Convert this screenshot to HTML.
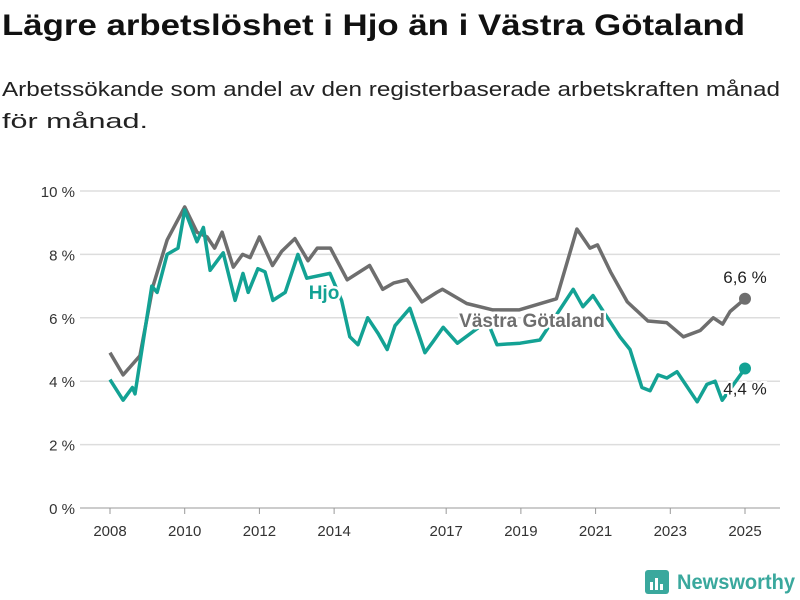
<!DOCTYPE html>
<html><head><meta charset="utf-8"><style>
body{margin:0;background:#fff;}
svg{display:block;font-family:"Liberation Sans","DejaVu Sans",sans-serif;}
</style></head><body>
<svg id="chart" width="800" height="600" viewBox="0 0 800 600">
<text x="2" y="35" font-size="30" font-weight="bold" fill="#111" textLength="743" lengthAdjust="spacingAndGlyphs">Lägre arbetslöshet i Hjo än i Västra Götaland</text>
<text x="2" y="96" font-size="20" fill="#222" textLength="778" lengthAdjust="spacingAndGlyphs">Arbetssökande som andel av den registerbaserade arbetskraften månad</text>
<text x="2" y="128" font-size="20" fill="#222" textLength="146" lengthAdjust="spacingAndGlyphs">för månad.</text>
<g id="grid"></g>
<g id="xaxis"></g>
<g id="series"></g>
<g>
<rect x="645" y="570" width="24" height="24" rx="3" fill="#3aa89d"/>
<rect x="650" y="582" width="3" height="8" fill="#fff"/><rect x="655" y="578" width="3" height="12" fill="#fff"/><rect x="660" y="584" width="3" height="6" fill="#fff"/>
<text x="677" y="589" font-size="21" font-weight="bold" fill="#3aa89d" textLength="118" lengthAdjust="spacingAndGlyphs">Newsworthy</text>
</g>
</svg>
<script>
const yTicks=[0,2,4,6,8,10];
const xTicks=[2008,2010,2012,2014,2017,2019,2021,2023,2025];
const vgYears=[2008,2008.35,2008.8,2009.15,2009.53,2010,2010.33,2010.6,2010.8,2011,2011.3,2011.55,2011.75,2012,2012.35,2012.6,2012.95,2013.3,2013.55,2013.9,2014.35,2014.55,2014.95,2015.3,2015.6,2015.95,2016.35,2016.75,2016.9,2017.55,2018.25,2018.95,2019.95,2020.5,2020.85,2021.05,2021.4,2021.85,2022.4,2022.9,2023.35,2023.8,2024.15,2024.4,2024.6,2025];
const vgValues=[4.9,4.2,4.8,7.0,8.45,9.5,8.7,8.55,8.2,8.7,7.6,8.0,7.9,8.55,7.65,8.1,8.5,7.8,8.2,8.2,7.2,7.35,7.65,6.9,7.1,7.2,6.5,6.8,6.9,6.45,6.25,6.25,6.6,8.8,8.2,8.3,7.45,6.5,5.9,5.85,5.4,5.6,6.0,5.8,6.2,6.6];
const hjoYears=[2008,2008.35,2008.6,2008.67,2009.12,2009.26,2009.53,2009.82,2010,2010.33,2010.5,2010.68,2011.03,2011.35,2011.56,2011.7,2011.96,2012.15,2012.36,2012.69,2013.03,2013.27,2013.89,2014.2,2014.42,2014.64,2014.9,2015.18,2015.42,2015.63,2016.03,2016.43,2016.65,2016.92,2017.3,2018.1,2018.36,2018.98,2019.51,2020.4,2020.66,2020.93,2021.65,2021.92,2022.24,2022.46,2022.67,2022.91,2023.18,2023.72,2023.98,2024.2,2024.39,2025];
const hjoValues=[4.05,3.4,3.8,3.6,7.0,6.8,8.0,8.2,9.4,8.4,8.85,7.5,8.05,6.55,7.4,6.8,7.55,7.45,6.55,6.8,8.0,7.25,7.4,6.55,5.4,5.15,6.0,5.5,5.0,5.75,6.3,4.9,5.25,5.7,5.2,5.9,5.15,5.2,5.3,6.9,6.35,6.7,5.4,5.0,3.8,3.7,4.2,4.1,4.3,3.35,3.9,4.0,3.4,4.4];
const NS='http://www.w3.org/2000/svg';
const X0=110,X1=745,Y0=508,Y1=191;
function xs(t){return X0+(t-2008)/(2025-2008)*(X1-X0);}
function ys(v){return Y0-v/10*(Y0-Y1);}
function mk(tag,attrs,parent){const e=document.createElementNS(NS,tag);for(const k in attrs)e.setAttribute(k,attrs[k]);parent.appendChild(e);return e;}
const grid=document.getElementById('grid'),xa=document.getElementById('xaxis'),ser=document.getElementById('series');
yTicks.forEach(v=>{
 const l=mk('line',{x1:80,x2:780,y1:ys(v),y2:ys(v),stroke:v===0?'#999':'#ddd','stroke-width':v===0?1:1.5},grid);
 
 
 const t=mk('text',{x:75,y:ys(v)+6,'text-anchor':'end','font-size':15,fill:'#333'},grid);
 t.textContent=v+' %';
 
 
});
xTicks.forEach(y=>{
 const l=mk('line',{x1:xs(y),x2:xs(y),y1:508,y2:514,stroke:'#999'},xa);
 
 
 const t=mk('text',{x:xs(y),y:536,'text-anchor':'middle','font-size':15,fill:'#333'},xa);
 t.textContent=y;
 
 
});
function line(years,vals,color,name){
 const d=years.map((t,i)=>(i?'L':'M')+xs(t).toFixed(1)+' '+ys(vals[i]).toFixed(1)).join(' ');
 const p=mk('path',{d:d,fill:'none',stroke:color,'stroke-width':3.5,'stroke-linejoin':'round'},ser);
 
 
 const n=years.length-1;
 const c=mk('circle',{cx:xs(years[n]),cy:ys(vals[n]),r:6,fill:color},ser);
 
 
 const t=mk('text',{x:xs(years[n]),y:ys(vals[n])+(name==='vg'?-16:26),'text-anchor':'middle','font-size':17,fill:'#222',stroke:'#fff','stroke-width':4,'paint-order':'stroke'},ser);
 t.textContent=vals[n].toFixed(1).replace('.',',')+' %';
 
 
}
line(vgYears,vgValues,'#6e6e6e','vg');
line(hjoYears,hjoValues,'#13a294','hjo');
const l1=mk('text',{x:324,y:299,'text-anchor':'middle','font-size':19,'font-weight':'bold',fill:'#13a294',stroke:'#fff','stroke-width':5,'paint-order':'stroke'},ser);
l1.textContent='Hjo';


const l2=mk('text',{x:532,y:327,'text-anchor':'middle','font-size':19,'font-weight':'bold',fill:'#6e6e6e',stroke:'#fff','stroke-width':5,'paint-order':'stroke'},ser);
l2.textContent='Västra Götaland';


</script>
</body></html>
